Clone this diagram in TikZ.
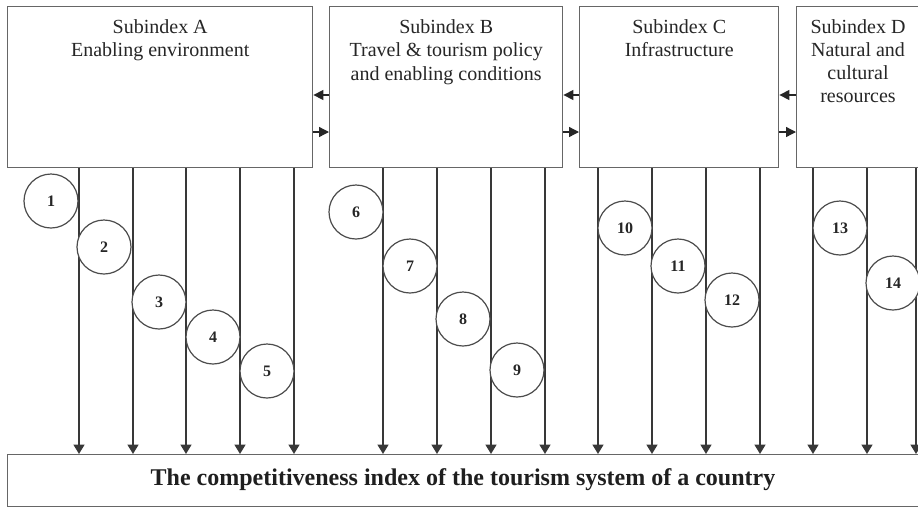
\documentclass[tikz,border=0pt]{standalone}
\usepackage{fontspec}
\setmainfont{Liberation Serif}
\usetikzlibrary{arrows.meta}
\begin{document}
\begin{tikzpicture}[x=1pt,y=-1pt,
  panel/.style={draw=black!60,line width=1.4pt,fill=white,anchor=north west,inner sep=0pt},
  heading/.style={anchor=north,align=center,inner sep=0pt,font=\fontsize{20}{23.7}\selectfont,text=black!85},
  factor/.style={circle,draw=black!70,line width=1.2pt,fill=white,minimum size=54pt,inner sep=0pt,font=\fontsize{16}{16}\selectfont\bfseries,text=black!85},
  flow/.style={draw=black!78,line width=1.7pt,-{Triangle[width=11pt,length=9.5pt]}},
  link/.style={draw=black!85,line width=1.3pt,-{Triangle[width=10pt,length=10pt]}}]
\useasboundingbox (0,0) rectangle (918,507);
\clip (0,0) rectangle (918,507);
% subindex panels
\node[panel,minimum width=305pt,minimum height=161pt] (A) at (7,6) {};
\node[panel,minimum width=233pt,minimum height=161pt] (B) at (329,6) {};
\node[panel,minimum width=199pt,minimum height=161pt] (C) at (579,6) {};
\node[panel,minimum width=140pt,minimum height=161pt] (D) at (796,6) {};
\node[heading] (tA) at (A.north |- 0,19) {Subindex A\\Enabling environment};
\node[heading] (tB) at (B.north |- 0,19) {Subindex B\\Travel \& tourism policy\\and enabling conditions};
\node[heading] (tC) at (C.north |- 0,19) {Subindex C\\Infrastructure};
\node[heading,font=\fontsize{20}{23}\selectfont] (tD) at (858,19) {Subindex D\\Natural and\\cultural\\resources};
% result panel
\node[panel,minimum width=930pt,minimum height=52pt] (idx) at (7,454) {};
\node[anchor=base,inner sep=0pt,font=\fontsize{24}{26}\selectfont\bfseries,text=black!88] (tI) at (463,485) {The competitiveness index of the tourism system of a country};
% links between neighbouring panels
\foreach \l/\r in {A/B,B/C,C/D}{
  \draw[link] (\r.west |- 0,95) -- (\l.east |- 0,95);
  \draw[link] (\l.east |- 0,132) -- (\r.west |- 0,132);
}
% indicator flows into the index
\foreach \x in {79,133,186,240,294}{\draw[flow] (A.south -| \x,0) -- (idx.north -| \x,0);}
\foreach \x in {383,437,491,545}{\draw[flow] (B.south -| \x,0) -- (idx.north -| \x,0);}
\foreach \x in {598,652,706,760}{\draw[flow] (C.south -| \x,0) -- (idx.north -| \x,0);}
\foreach \x in {813,867,916}{\draw[flow] (D.south -| \x,0) -- (idx.north -| \x,0);}
% numbered indicators
\foreach \n/\x/\y in {1/51/201,2/104/247,3/159/302,4/213/337,5/267/371,
  6/356/212,7/410/266,8/463/319,9/517/370,
  10/625/228,11/678/266,12/732/300,
  13/840/228,14/893/283}{
  \node[factor] (f\n) at (\x,\y) {\n};
}
\end{tikzpicture}
\end{document}
